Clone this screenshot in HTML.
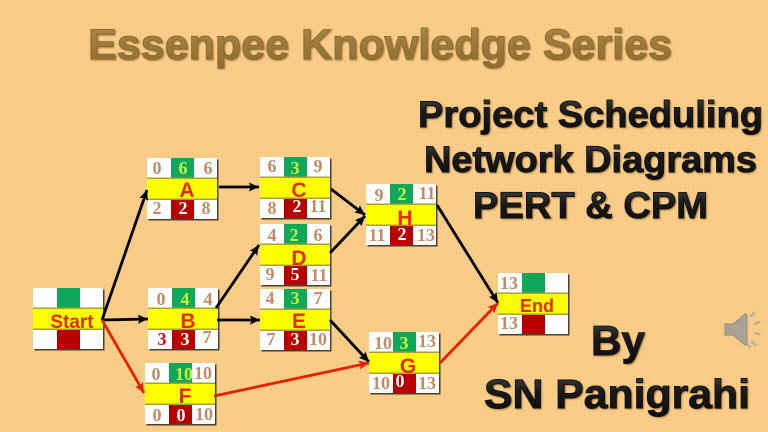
<!DOCTYPE html>
<html>
<head>
<meta charset="utf-8">
<style>
html,body{margin:0;padding:0;width:768px;height:432px;overflow:hidden;background:#F8CB85}
svg{display:block}
.n{font-family:"Liberation Serif",serif;font-weight:bold;font-size:18px;fill:#C28B66;text-anchor:middle}
.g{fill:#C9F23C}
.w{fill:#fff}
.dr{fill:#C4122A}
.l{font-family:"Liberation Sans",sans-serif;font-weight:bold;font-size:21px;fill:#E62A00;text-anchor:middle}
.t{font-family:"Liberation Sans",sans-serif;font-weight:bold;filter:drop-shadow(1px 1.5px .7px rgba(90,60,20,.5))}
</style>
</head>
<body>
<svg width="768" height="432" viewBox="0 0 768 432" xmlns="http://www.w3.org/2000/svg">
<defs>
<pattern id="dots" width="4" height="4" patternUnits="userSpaceOnUse">
<rect width="4" height="4" fill="#F9CC87"/>
<rect x="0" y="0" width="1" height="1" fill="#F2C47F"/>
</pattern>
<linearGradient id="dark" x1="0" y1="0" x2="0" y2="1">
<stop offset="0" stop-color="#4a4a4a"/><stop offset=".45" stop-color="#1a1a1a"/><stop offset="1" stop-color="#0c0c0c"/>
</linearGradient>
<linearGradient id="gold" x1="0" y1="0" x2="0" y2="1">
<stop offset="0" stop-color="#AD8C4C"/><stop offset=".5" stop-color="#9B7A3A"/><stop offset="1" stop-color="#8D6C30"/>
</linearGradient>
<marker id="ab" markerUnits="userSpaceOnUse" markerWidth="12" markerHeight="12" refX="10" refY="5" orient="auto"><path d="M0 .5L10 5L0 9.5L1.5 5Z" fill="#000"/></marker>
<marker id="ar" markerUnits="userSpaceOnUse" markerWidth="12" markerHeight="12" refX="10" refY="5" orient="auto"><path d="M0 .5L10 5L0 9.5L1.5 5Z" fill="#E62200"/></marker>
<g id="base">
<rect x="1.5" y="1.5" width="70" height="61" fill="#4a4030"/>
<rect width="70" height="61" fill="#fff"/>
<rect x="24" y="0" width="23" height="20" fill="#0FA85A"/>
<rect x="24" y="41" width="23" height="20" fill="#B90000"/>
<rect x="0" y="20" width="70" height="21" fill="#FFFF00"/>
<rect x="0" y="19.5" width="70" height="1.5" fill="#A6A23A"/>
<rect x="0" y="40.5" width="70" height="1.5" fill="#A6A23A"/>
</g>
</defs>
<rect width="768" height="432" fill="url(#dots)"/>

<text class="t" x="88" y="59" font-size="43" fill="url(#gold)" stroke="#8D6C30" stroke-width="1" textLength="584" lengthAdjust="spacingAndGlyphs">Essenpee Knowledge Series</text>
<text class="t" x="418" y="127" font-size="37" fill="url(#dark)" stroke="#111" stroke-width=".9" textLength="345" lengthAdjust="spacingAndGlyphs">Project Scheduling</text>
<text class="t" x="424" y="172" font-size="37" fill="url(#dark)" stroke="#111" stroke-width=".9" textLength="333" lengthAdjust="spacingAndGlyphs">Network Diagrams</text>
<text class="t" x="473" y="218" font-size="37" fill="url(#dark)" stroke="#111" stroke-width=".9" textLength="235" lengthAdjust="spacingAndGlyphs">PERT &amp; CPM</text>
<text class="t" x="591" y="355" font-size="42" fill="url(#dark)" stroke="#111" stroke-width=".9" textLength="54" lengthAdjust="spacingAndGlyphs">By</text>
<text class="t" x="484" y="408" font-size="41" fill="url(#dark)" stroke="#111" stroke-width=".9" textLength="266" lengthAdjust="spacingAndGlyphs">SN Panigrahi</text>

<use href="#base" x="33" y="288"/>
<text class="l" x="72" y="328" style="font-size:19px">Start</text>

<use href="#base" x="147" y="158"/>
<text class="n" x="157" y="174">0</text><text class="n g" x="183" y="174">6</text><text class="n" x="208" y="174">6</text>
<text class="l" x="187" y="197">A</text>
<text class="n" x="157" y="214">2</text><text class="n w" x="183" y="214">2</text><text class="n" x="206" y="214">8</text>

<use href="#base" x="148" y="288"/>
<text class="n" x="161" y="305">0</text><text class="n g" x="185" y="305">4</text><text class="n" x="208" y="305">4</text>
<text class="l" x="188" y="328">B</text>
<text class="n dr" x="162" y="345">3</text><text class="n w" x="185" y="345">3</text><text class="n" x="207" y="343">7</text>

<use href="#base" x="145" y="363"/>
<text class="n" x="156" y="380">0</text><text class="n g" x="184" y="380">10</text><text class="n" x="203" y="379">10</text>
<text class="l" x="185" y="403">F</text>
<text class="n" x="157" y="421">0</text><text class="n w" x="181" y="421">0</text><text class="n" x="204" y="420">10</text>

<use href="#base" x="260" y="157"/>
<text class="n" x="272" y="172">6</text><text class="n g" x="295" y="174">3</text><text class="n" x="318" y="172">9</text>
<text class="l" x="299" y="197">C</text>
<text class="n" x="272" y="214">8</text><text class="n w" x="297" y="212">2</text><text class="n" x="318" y="212">11</text>

<use href="#base" x="260" y="224"/>
<text class="n" x="272" y="241">4</text><text class="n g" x="294" y="241">2</text><text class="n" x="318" y="241">6</text>
<text class="l" x="299" y="265">D</text>
<text class="n" x="270" y="280">9</text><text class="n w" x="295" y="280">5</text><text class="n" x="319" y="281">11</text>

<use href="#base" x="260" y="289"/>
<text class="n" x="270" y="304">4</text><text class="n g" x="295" y="304">3</text><text class="n" x="318" y="304">7</text>
<text class="l" x="299" y="328">E</text>
<text class="n" x="271" y="345">7</text><text class="n w" x="295" y="345">3</text><text class="n" x="318" y="345">10</text>

<use href="#base" x="366" y="184"/>
<text class="n" x="379" y="201">9</text><text class="n g" x="402" y="200">2</text><text class="n" x="427" y="199">11</text>
<text class="l" x="405" y="225">H</text>
<text class="n" x="377" y="241">11</text><text class="n w" x="402" y="240">2</text><text class="n" x="426" y="241">13</text>

<use href="#base" x="369" y="332"/>
<text class="n" x="383" y="349">10</text><text class="n g" x="404" y="349">3</text><text class="n" x="427" y="347">13</text>
<text class="l" x="408" y="373">G</text>
<text class="n" x="381" y="389">10</text><text class="n w" x="400" y="387">0</text><text class="n" x="427" y="389">13</text>

<use href="#base" x="498" y="273"/>
<text class="n" x="509" y="289">13</text>
<text class="l" x="537" y="312" style="font-size:18px">End</text>
<text class="n" x="509" y="329">13</text>

<g fill="none" stroke-width="2.8">
<path d="M102 320L147 190" stroke="#000" marker-end="url(#ab)"/>
<path d="M102 320L148 319" stroke="#000" marker-end="url(#ab)"/>
<path d="M219 187L259 187" stroke="#000" marker-end="url(#ab)"/>
<path d="M216 308L259 245" stroke="#000" marker-end="url(#ab)"/>
<path d="M217 320L260 320" stroke="#000" marker-end="url(#ab)"/>
<path d="M331 189L365 215" stroke="#000" marker-end="url(#ab)"/>
<path d="M330 253L365 216" stroke="#000" marker-end="url(#ab)"/>
<path d="M437 205L498 303" stroke="#000" marker-end="url(#ab)"/>
<path d="M330 320L369 362" stroke="#000" marker-end="url(#ab)"/>
<path d="M102 320L144 393" stroke="#E62200" marker-end="url(#ar)"/>
<path d="M214 396L369 363" stroke="#E62200" marker-end="url(#ar)"/>
<path d="M440 363L498 303" stroke="#E62200" marker-end="url(#ar)"/>
</g>

<path d="M725 324L733 324L745 314Q747 313 747 316L747 343Q747 346 745 345L733 335L725 335Z" fill="#A8A395" stroke="#8f8a7c" stroke-width="1"/>
<g stroke="#B5B0A2" stroke-width="2.4" stroke-linecap="round">
<path d="M751 316L754 313M755 324L759 322M755 333L759 334M752 342L756 345M750 347L748 345"/>
</g>
</svg>
</body>
</html>
